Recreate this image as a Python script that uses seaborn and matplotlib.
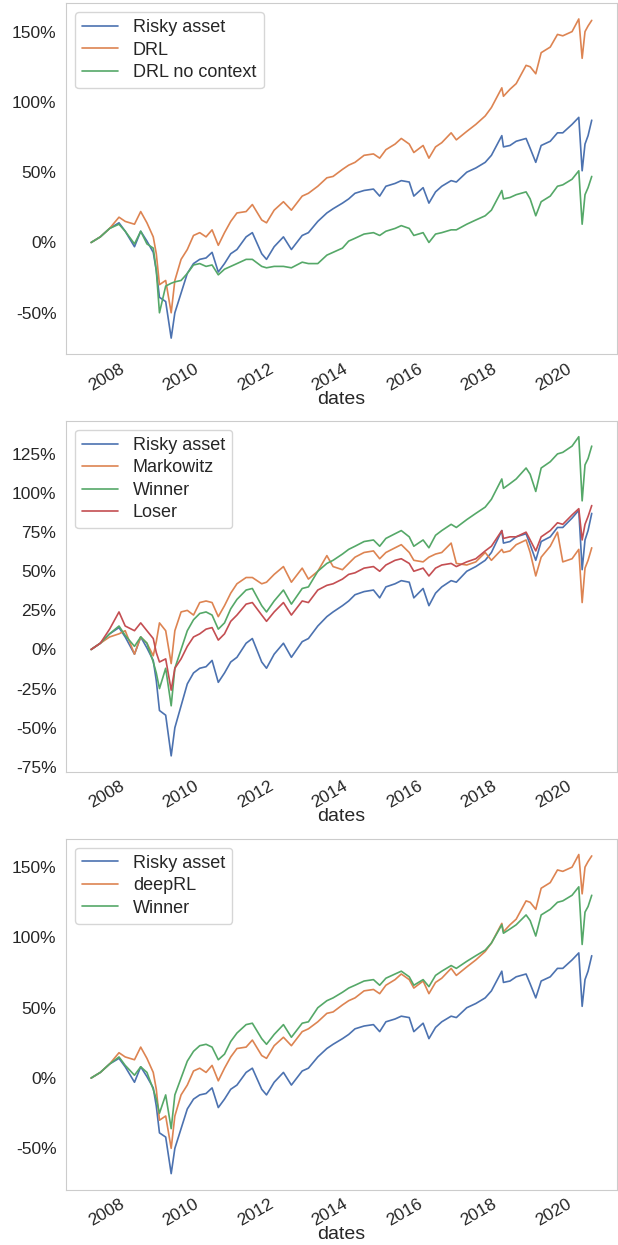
import matplotlib.dates as mdates
import matplotlib.pyplot as plt
import pandas as pd
import seaborn as sns
from matplotlib.ticker import FuncFormatter, MultipleLocator

# values (cumulative return, %)
date_list = [
    "2007-01-15", "2007-04-15", "2007-07-15", "2007-10-15", "2007-12-15",
    "2008-03-15", "2008-05-15", "2008-07-15", "2008-09-15", "2008-10-15",
    "2008-11-15", "2009-01-15", "2009-03-10", "2009-04-15", "2009-06-15",
    "2009-08-15", "2009-10-15", "2009-12-15", "2010-02-15", "2010-04-15",
    "2010-06-15", "2010-08-15", "2010-10-15", "2010-12-15", "2011-03-15",
    "2011-05-15", "2011-08-15", "2011-10-01", "2011-12-15", "2012-03-15",
    "2012-06-01", "2012-09-15", "2012-11-15", "2013-02-15", "2013-05-15",
    "2013-07-15", "2013-10-15", "2013-12-15", "2014-02-15", "2014-05-15",
    "2014-08-15", "2014-10-15", "2014-12-15", "2015-03-15", "2015-05-15",
    "2015-08-01", "2015-09-15", "2015-12-15", "2016-02-10", "2016-04-15",
    "2016-06-15", "2016-09-15", "2016-11-05", "2017-02-15", "2017-05-15",
    "2017-08-15", "2017-10-15", "2018-01-25", "2018-02-10", "2018-04-15",
    "2018-06-15", "2018-09-20", "2018-10-30", "2018-12-24", "2019-02-15",
    "2019-05-15", "2019-07-25", "2019-09-15", "2019-12-15", "2020-02-19",
    "2020-03-23", "2020-04-20", "2020-05-20", "2020-06-25",
]
risky = [
    0, 4, 10, 14, 8, -3, 8, 1, -7, -20,
    -39, -42, -68, -50, -36, -22, -15, -12, -11, -7,
    -21, -15, -8, -5, 4, 7, -8, -12, -3, 4,
    -5, 5, 7, 15, 21, 24, 28, 31, 35, 37,
    38, 33, 40, 42, 44, 43, 33, 39, 28, 36,
    40, 44, 43, 50, 53, 57, 62, 76, 68, 69,
    72, 74, 67, 57, 69, 72, 78, 78, 84, 89,
    51, 70, 76, 87,
]
drl = [
    0, 4, 10, 18, 15, 13, 22, 14, 4, -8,
    -30, -27, -50, -27, -12, -5, 5, 7, 4, 9,
    -2, 7, 15, 21, 22, 27, 16, 14, 23, 29,
    23, 33, 35, 40, 46, 47, 52, 55, 57, 62,
    63, 60, 66, 70, 74, 70, 64, 69, 60, 68,
    71, 78, 73, 79, 84, 90, 96, 110, 104, 109,
    113, 126, 125, 120, 135, 139, 148, 147, 150, 159,
    131, 150, 154, 158,
]
drl_no_context = [
    0, 4, 10, 13, 8, -1, 8, -1, -4, -20,
    -50, -31, -29, -28, -27, -22, -16, -15, -17, -16,
    -23, -19, -17, -15, -12, -12, -17, -18, -17, -17,
    -18, -14, -15, -15, -9, -7, -4, 1, 3, 6,
    7, 5, 8, 10, 12, 10, 5, 7, 0, 6,
    7, 9, 9, 13, 16, 19, 23, 37, 31, 32,
    34, 36, 31, 19, 29, 33, 40, 41, 45, 51,
    13, 34, 39, 47,
]
markowitz = [
    0, 4, 8, 10, 12, -3, 8, 4, -4, 5,
    17, 12, -9, 12, 24, 25, 22, 30, 31, 30,
    21, 28, 36, 42, 46, 46, 42, 43, 48, 53,
    43, 52, 45, 50, 60, 53, 51, 55, 59, 62,
    63, 58, 62, 65, 67, 62, 57, 56, 59, 61,
    62, 68, 55, 54, 56, 62, 57, 64, 62, 63,
    67, 70, 62, 47, 59, 66, 75, 56, 58, 64,
    30, 52, 57, 65,
]
winner = [
    0, 4, 10, 15, 9, 2, 8, 4, -8, -15,
    -25, -12, -36, -12, 0, 12, 19, 23, 24, 22,
    13, 17, 26, 32, 38, 39, 28, 24, 31, 38,
    29, 39, 40, 50, 55, 57, 61, 64, 66, 69,
    70, 66, 71, 74, 76, 72, 66, 70, 65, 73,
    76, 80, 78, 83, 87, 91, 96, 109, 103, 106,
    109, 116, 112, 101, 116, 120, 125, 126, 130, 136,
    95, 118, 122, 130,
]
loser = [
    0, 4, 13, 24, 15, 12, 17, 12, 7, -2,
    -8, -6, -26, -12, -6, 2, 8, 10, 13, 14,
    6, 10, 18, 22, 29, 30, 22, 18, 24, 30,
    22, 31, 30, 38, 41, 42, 45, 48, 49, 52,
    53, 50, 54, 57, 58, 55, 50, 52, 47, 52,
    54, 55, 53, 56, 58, 63, 66, 76, 71, 72,
    72, 75, 70, 63, 72, 76, 81, 80, 86, 90,
    70, 80, 85, 92,
]

dates = pd.to_datetime(date_list)

panels = [
    [("Risky asset", risky), ("DRL", drl), ("DRL no context", drl_no_context)],
    [("Risky asset", risky), ("Markowitz", markowitz), ("Winner", winner), ("Loser", loser)],
    [("Risky asset", risky), ("deepRL", drl), ("Winner", winner)],
]
y_steps = [50, 25, 50]

sns.set_style("whitegrid", {"axes.grid": False})
plt.rcParams["font.family"] = ["Liberation Sans", "DejaVu Sans"]
palette = sns.color_palette("deep")

fig, axes = plt.subplots(3, 1, figsize=(6.18, 12.45), dpi=100)
fig.subplots_adjust(left=0.107, right=0.998, top=0.9976, bottom=0.0445, hspace=0.19)

for ax, panel, step in zip(axes, panels, y_steps):
    for i, (name, values) in enumerate(panel):
        sns.lineplot(x=dates, y=values, ax=ax, label=name, color=palette[i], linewidth=1.2)
    ax.yaxis.set_major_locator(MultipleLocator(step))
    ax.yaxis.set_major_formatter(FuncFormatter(lambda v, _: f"{v:.0f}%"))
    ax.xaxis.set_major_locator(mdates.YearLocator(2))
    ax.xaxis.set_major_formatter(mdates.DateFormatter("%Y"))
    ax.tick_params(axis="y", labelsize=12.5)
    ax.tick_params(axis="x", pad=1.5)
    plt.setp(ax.get_xticklabels(), rotation=30, ha="right", fontsize=12.5)
    ax.set_xlabel("dates", fontsize=14, labelpad=-2)
    ax.set_ylabel("")
    for spine in ax.spines.values():
        spine.set_color("#cccccc")
    ax.legend(loc="upper left", fontsize=13, labelspacing=0.3)

fig.savefig("out.png")
